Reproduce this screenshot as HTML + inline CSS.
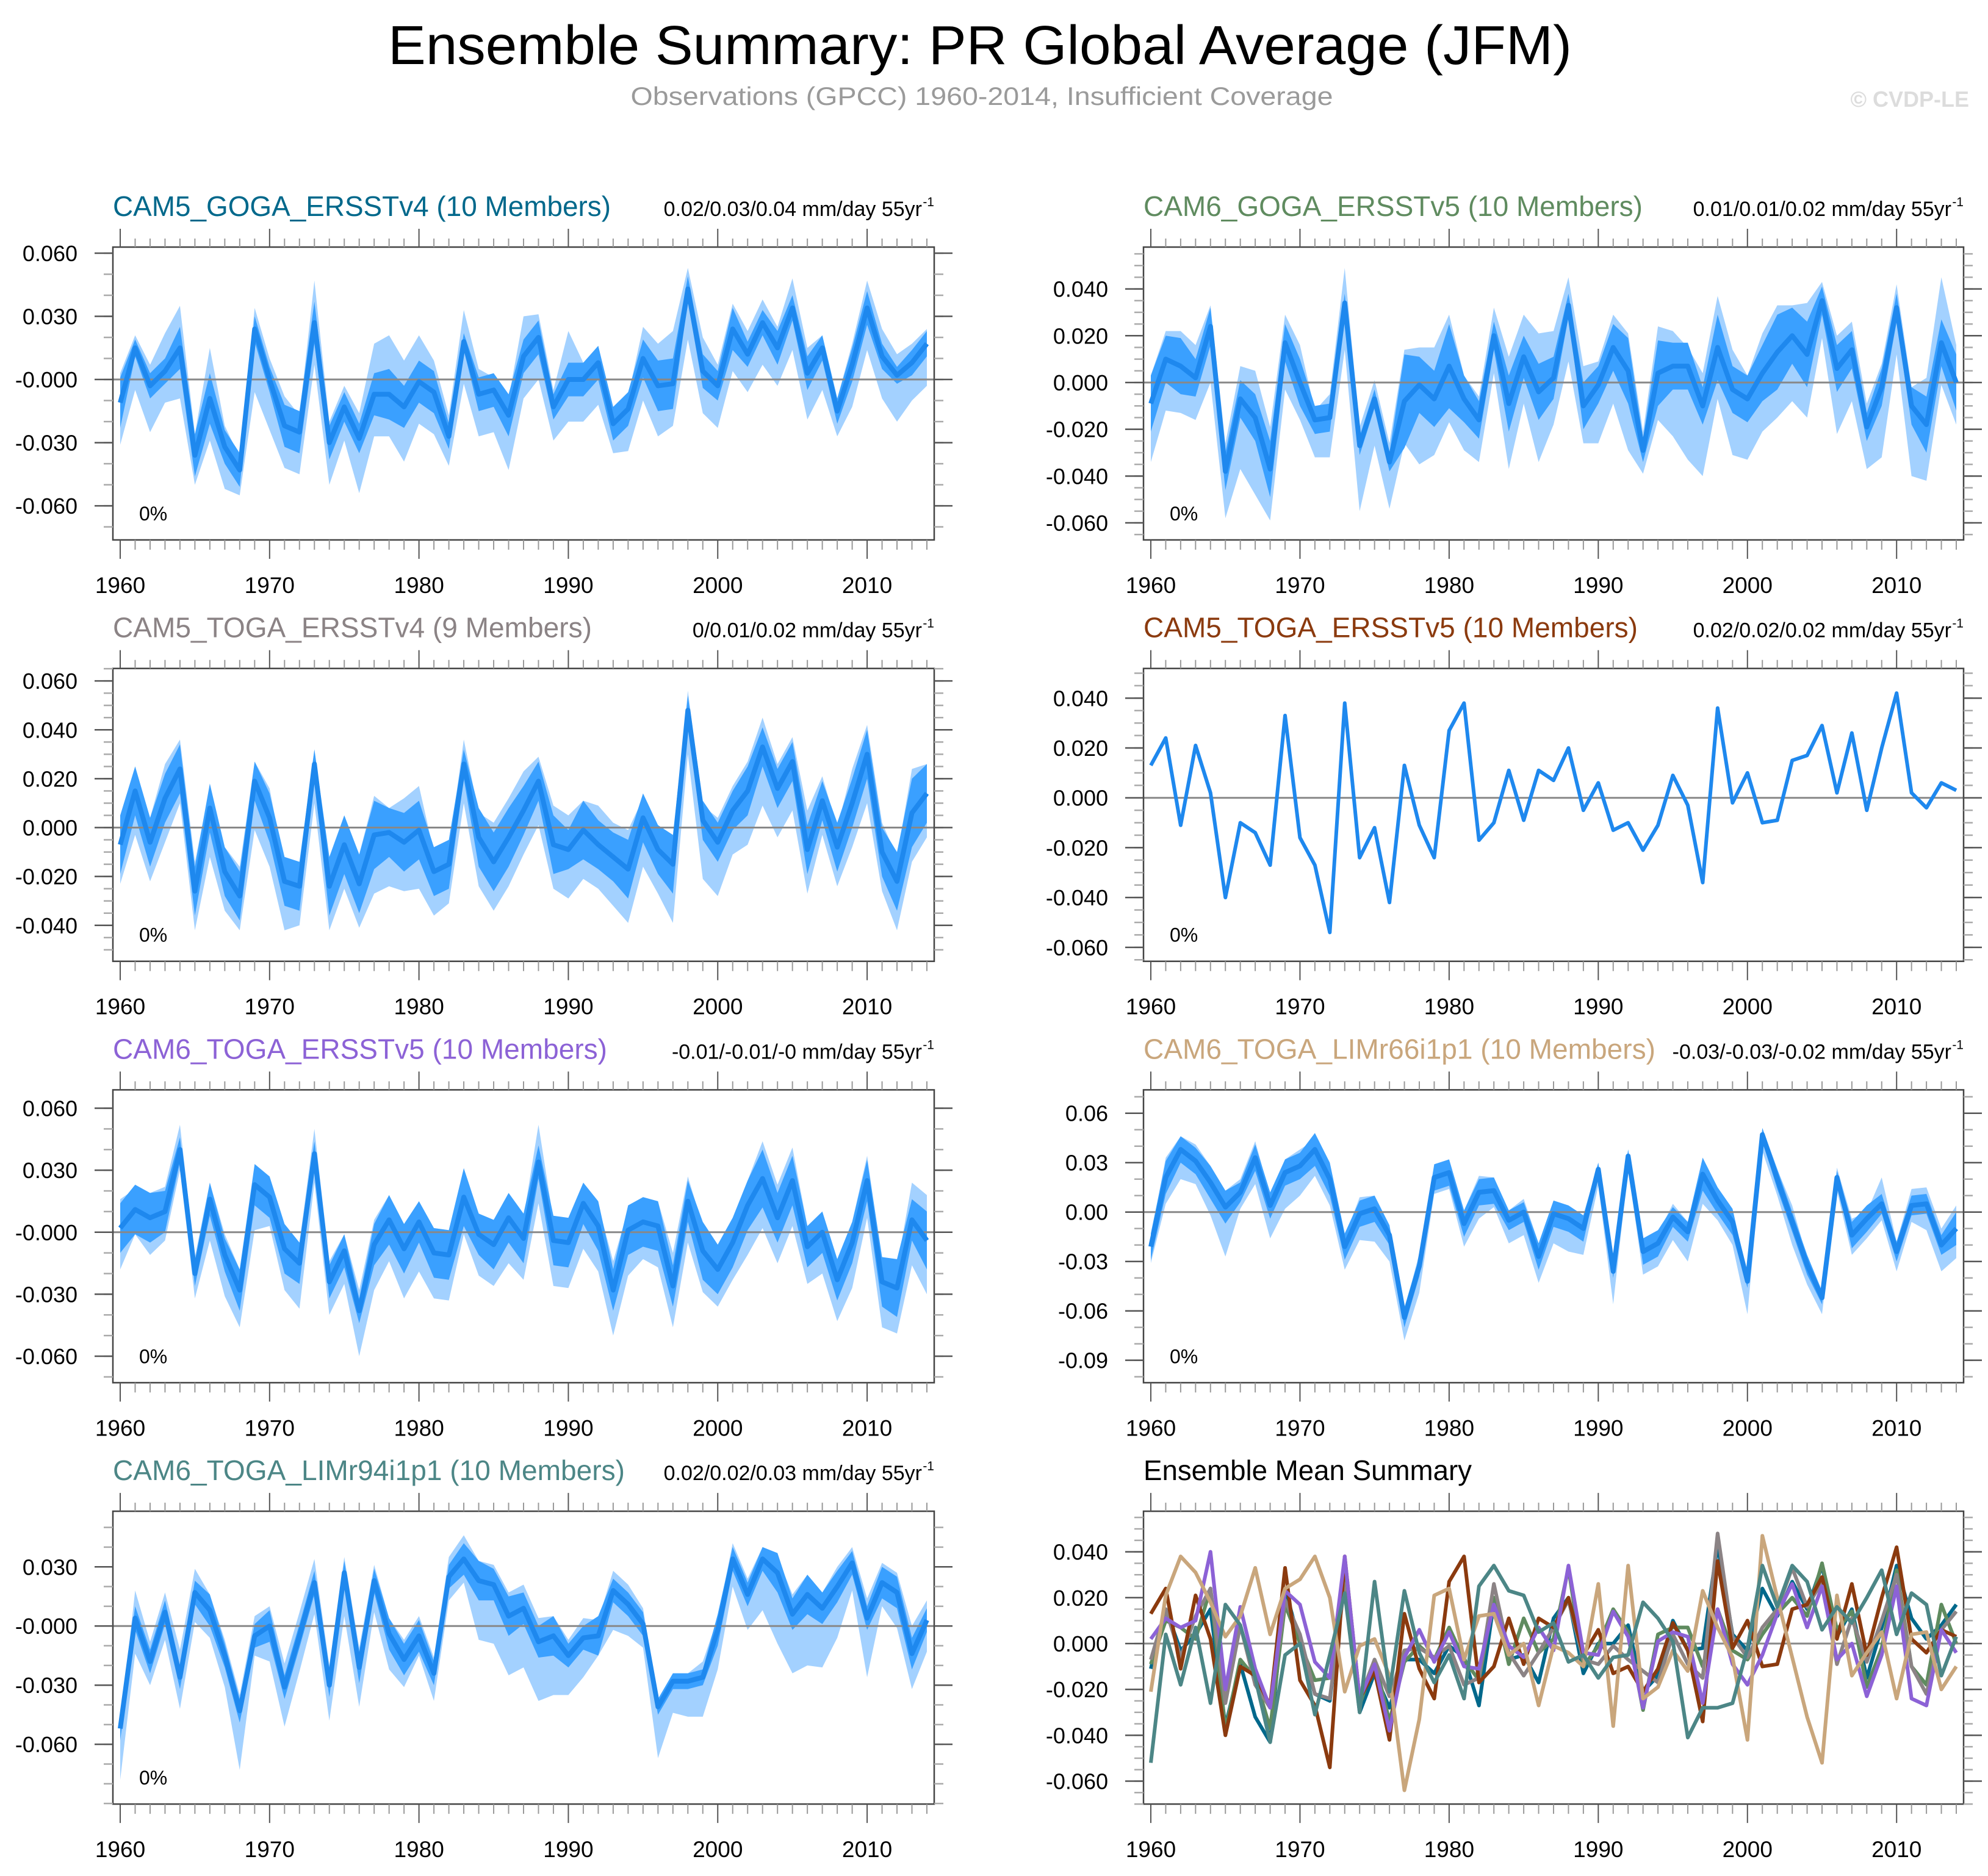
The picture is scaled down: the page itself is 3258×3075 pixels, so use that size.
<!DOCTYPE html>
<html><head><meta charset="utf-8"><title>Ensemble Summary: PR Global Average (JFM)</title>
<style>html,body{margin:0;padding:0;background:#fff;}svg{display:block;font-family:"Liberation Sans",sans-serif;}</style>
</head><body>
<svg id="chart" width="3258" height="3075" viewBox="0 0 3258 3075" xmlns="http://www.w3.org/2000/svg">
<rect width="3258" height="3075" fill="#fff"/>
<text x="1606" y="105" font-size="90" text-anchor="middle" textLength="1940" lengthAdjust="spacingAndGlyphs" fill="#000">Ensemble Summary: PR Global Average (JFM)</text>
<text x="1609" y="172" font-size="42" text-anchor="middle" textLength="1151" lengthAdjust="spacingAndGlyphs" fill="#9a9a9a">Observations (GPCC) 1960-2014, Insufficient Coverage</text>
<text x="3227" y="175" font-size="36" font-weight="bold" text-anchor="end" fill="#dcdcdc">© CVDP-LE</text>
<g id="panels"></g>
</svg>
<script>
// ---- data (values in thousandths of mm/day) ----
const years = [];
for (let y = 1960; y <= 2014; y++) years.push(y);

const p1Mean = [-11,15,-3,4,15,-36,-9,-32,-43,24, 0,-22,-25,27,-30,-13,-28,-7,-7,-13, -1,-6,-27,18,-7,-5,-17,11,20,-13, 0,0,8,-21,-14,10,-3,-2,43,4, -3,24,12,27,15,34,3,15,-15,7, 34,11,2,8,17];
const p1In = [12,4,6,6,10,10,12,8,8,6, 6,10,10,10,8,7,7,10,12,10, 10,10,6,4,8,8,10,8,8,6, 8,8,8,8,8,9,12,12,6,8, 7,10,6,6,8,6,8,6,6,8, 8,6,4,6,6];
const p1OutLo = [20,20,22,15,24,14,20,20,12,30, 24,20,20,20,20,16,26,20,20,26, 20,20,14,20,20,20,26,20,20,16, 20,20,20,14,20,20,24,20,24,20, 20,20,18,20,18,20,22,20,12,20, 20,20,22,18,20];
const p1OutHi = [14,6,10,18,20,10,24,10,6,10, 10,14,8,20,10,10,12,24,28,22, 22,15,10,15,12,6,8,19,11,8, 23,8,8,6,6,15,20,25,10,16, 10,12,11,11,10,14,12,6,6,10, 13,13,10,9,7];

const p2Mean = [-9,10,7,2,24,-38,-7,-15,-37,17, 0,-16,-15,34,-27,-7,-34,-8,-1,-7, 7,-7,-16,20,-9,11,-4,2,33,-10, -1,15,5,-29,4,7,7,-10,15,-3, -7,4,13,20,12,35,6,14,-19,-2, 32,-10,-18,17,0];
const p2In = [12,10,12,8,8,8,8,10,12,8, 10,6,6,4,4,4,4,20,12,12, 18,10,8,6,12,9,12,9,5,10, 8,10,14,5,14,10,10,8,14,10, 10,12,16,12,14,6,10,8,6,8, 6,8,12,10,12];
const p2OutLo = [25,22,20,18,24,20,30,33,22,20, 16,16,17,20,28,20,20,18,34,24, 24,22,18,16,28,20,30,20,24,16, 25,24,34,10,20,30,40,30,22,28, 26,25,28,28,27,16,28,22,18,30, 20,30,24,18,18];
const p2OutHi = [12,12,15,14,9,12,14,20,18,12, 16,4,10,15,8,8,8,22,16,22, 22,10,10,12,20,18,25,20,12,17, 10,14,16,8,20,15,8,14,22,17, 10,17,20,13,22,8,14,12,10,10, 10,8,20,28,16];

const p3Mean = [-7,15,-6,12,24,-26,8,-18,-28,19, 4,-22,-24,26,-24,-7,-23,-3,-2,-6, -1,-18,-15,26,-4,-14,-4,7,19,-7, -9,-1,-7,-12,-17,4,-9,-15,48,3, -6,7,15,33,16,27,-9,11,-8,10, 30,-10,-22,6,14];
const p3In = [12,10,10,10,10,10,10,10,10,8, 10,10,10,6,12,12,12,14,10,12, 12,10,10,6,12,12,12,10,8,12, 8,12,10,10,12,10,10,12,6,8, 8,8,10,8,8,8,10,8,10,10, 10,10,12,14,12];
const p3OutLo = [16,18,16,18,14,16,20,16,14,20, 20,20,16,16,18,18,18,24,22,20, 24,18,16,16,20,20,20,18,18,18, 20,20,18,20,22,20,18,24,18,24, 22,18,22,24,20,20,18,14,16,18, 20,16,20,20,18];
const p3OutHi = [8,10,10,14,12,12,8,10,12,8, 12,6,8,6,10,12,12,16,10,18, 18,8,6,10,10,16,16,16,10,16, 14,12,16,14,16,8,8,6,8,6, 10,10,12,12,10,10,16,10,8,14, 12,12,10,18,12];

const p4Mean = [13,24,-11,21,2,-40,-10,-14,-27,33, -16,-27,-54,38,-24,-12,-42,13,-11,-24, 27,38,-17,-10,11,-9,11,7,20,-5, 6,-13,-10,-21,-11,9,-3,-34,36,-2, 10,-10,-9,15,17,29,2,26,-5,20, 42,2,-4,6,3];

const p5Mean = [2,11,7,10,40,-20,16,-11,-28,23, 17,-8,-15,38,-24,-9,-38,-6,6,-8, 5,-10,-11,17,-1,-6,7,-3,34,-4, -5,14,3,-28,1,5,3,-26,15,-9, -18,-5,13,26,7,25,-7,0,-23,-5, 25,-24,-27,6,-4];
const p5In = [12,12,12,10,6,6,8,8,10,10, 10,12,10,6,8,8,6,10,12,12, 10,12,12,14,10,12,12,12,8,12, 12,10,12,10,12,12,12,10,10,14, 12,12,12,14,12,12,10,10,10,10, 10,12,14,10,14];
const p5OutLo = [20,12,18,14,10,12,20,20,18,22, 14,20,22,14,16,16,22,22,20,24, 24,22,22,18,20,20,22,20,20,22, 22,22,22,22,22,18,20,20,20,20, 18,18,24,24,22,22,18,20,20,22, 18,22,22,22,26];
const p5OutHi = [14,10,12,12,12,8,8,10,10,8, 6,10,10,12,10,8,10,12,12,8, 10,12,12,12,10,12,10,10,18,10, 12,8,10,14,10,12,12,16,12,12, 12,12,12,18,16,16,10,10,10,10, 12,10,10,18,22];

const p6Mean = [-21,21,38,31,18,3,12,33,4,24, 28,38,20,-21,-1,2,-14,-64,-33,21, 24,-7,12,13,-5,0,-27,-1,-4,-10, 26,-36,34,-24,-19,-3,-12,23,7,-6, -42,47,20,-6,-32,-52,21,-14,-4,5, -24,4,5,-20,-10];
const p6In = [8,10,8,8,10,10,6,8,8,8, 8,10,10,8,8,8,6,6,6,8, 8,8,8,8,6,6,8,8,8,8, 4,4,4,8,8,6,6,10,8,8, 4,4,6,6,6,4,4,8,8,6, 6,6,6,6,10];
const p6OutLo = [10,16,18,14,20,30,10,16,20,22, 18,16,16,14,16,20,16,14,16,10, 10,14,16,10,14,14,16,18,20,16, 10,20,8,14,14,14,18,18,12,14, 20,10,10,14,12,10,8,12,12,10, 12,10,16,16,18];
const p6OutHi = [6,12,8,10,10,10,8,10,6,8, 10,6,8,6,10,8,4,4,8,6, 6,8,10,8,6,8,8,8,8,8, 4,4,4,4,6,8,6,10,6,4, 4,4,6,10,4,4,6,10,4,16, 6,10,10,10,14];

const p7Mean = [-52,4,-18,7,-26,17,8,-15,-43,-5, 0,-31,-5,22,-30,27,-21,23,-4,-17, -5,-24,25,34,23,21,5,9,-8,-5, -15,-6,-5,18,11,1,-41,-28,-28,-26, -2,34,16,34,27,6,16,9,20,32, 4,22,17,-14,3];
const p7In = [6,6,6,6,6,6,8,6,6,6, 8,6,6,6,6,6,8,6,8,8, 8,6,6,8,10,8,10,8,8,10, 6,6,10,6,6,6,4,4,4,4, 8,6,6,6,10,8,10,8,8,6, 6,8,8,8,6];
const p7OutLo = [26,18,12,14,16,15,14,16,30,10, 18,20,18,16,18,22,20,16,18,14, 10,14,12,12,30,30,30,30,30,30, 20,20,10,20,16,12,26,16,18,20, 20,14,18,26,36,30,36,30,26,14, 30,12,18,18,16];
const p7OutHi = [2,14,10,10,14,12,8,8,8,10, 10,12,12,12,10,8,10,8,8,10, 10,8,10,12,10,10,12,12,12,10, 8,10,8,10,10,8,4,4,4,8, 6,8,8,6,8,10,10,8,10,8, 10,10,10,14,10];

const titles = ["CAM5_GOGA_ERSSTv4 (10 Members)","CAM6_GOGA_ERSSTv5 (10 Members)","CAM5_TOGA_ERSSTv4 (9 Members)","CAM5_TOGA_ERSSTv5 (10 Members)","CAM6_TOGA_ERSSTv5 (10 Members)","CAM6_TOGA_LIMr66i1p1 (10 Members)","CAM6_TOGA_LIMr94i1p1 (10 Members)","Ensemble Mean Summary"];
const trends = ["0.02/0.03/0.04 mm/day 55yr","0.01/0.01/0.02 mm/day 55yr","0/0.01/0.02 mm/day 55yr","0.02/0.02/0.02 mm/day 55yr","-0.01/-0.01/-0 mm/day 55yr","-0.03/-0.03/-0.02 mm/day 55yr","0.02/0.02/0.03 mm/day 55yr",""];
const tickLabels1 = ["0.060","0.030","-0.000","-0.030","-0.060"];
const tickVals1 = [60,30,0,-30,-60];
const tickLabels2 = ["0.040","0.020","0.000","-0.020","-0.040","-0.060"];
const tickVals2 = [40,20,0,-20,-40,-60];
const tickLabels3 = ["0.060","0.040","0.020","0.000","-0.020","-0.040"];
const tickVals3 = [60,40,20,0,-20,-40];
const tickLabels4 = ["0.040","0.020","0.000","-0.020","-0.040","-0.060"];
const tickVals4 = [40,20,0,-20,-40,-60];
const tickLabels5 = ["0.060","0.030","-0.000","-0.030","-0.060"];
const tickVals5 = [60,30,0,-30,-60];
const tickLabels6 = ["0.06","0.03","0.00","-0.03","-0.06","-0.09"];
const tickVals6 = [60,30,0,-30,-60,-90];
const tickLabels7 = ["0.030","-0.000","-0.030","-0.060"];
const tickVals7 = [30,0,-30,-60];
const tickLabels8 = ["0.040","0.020","0.000","-0.020","-0.040","-0.060"];
const tickVals8 = [40,20,0,-20,-40,-60];
const xTickYears = [1960,1970,1980,1990,2000,2010];

// ---- layout (not data) ----
const NS = "http://www.w3.org/2000/svg";
const titleColors = ["#00688b","#5f8b5f","#8b8385","#8b3a0e","#8c62d6","#c9a67c","#4c8686","#000"];
const cols = [{l:185,r:1531},{l:1874,r:3218}];
const rowTop = r => 405 + r*690.7;
const boxH = 480;
const panels = [
 {c:0,r:0,ymin:-76.2,ymax:62.9,ticks:tickVals1,labels:tickLabels1,minor:10,mean:p1Mean,inn:p1In,lo:p1OutLo,hi:p1OutHi,tw:816},
 {c:1,r:0,ymin:-67.3,ymax:57.9,ticks:tickVals2,labels:tickLabels2,minor:5,mean:p2Mean,inn:p2In,lo:p2OutLo,hi:p2OutHi,tw:818},
 {c:0,r:1,ymin:-54.7,ymax:65.1,ticks:tickVals3,labels:tickLabels3,minor:5,mean:p3Mean,inn:p3In,lo:p3OutLo,hi:p3OutHi,tw:785},
 {c:1,r:1,ymin:-65.6,ymax:51.9,ticks:tickVals4,labels:tickLabels4,minor:5,mean:p4Mean,tw:810},
 {c:0,r:2,ymin:-72.8,ymax:68.9,ticks:tickVals5,labels:tickLabels5,minor:10,mean:p5Mean,inn:p5In,lo:p5OutLo,hi:p5OutHi,tw:810},
 {c:1,r:2,ymin:-103.6,ymax:74.2,ticks:tickVals6,labels:tickLabels6,minor:10,mean:p6Mean,inn:p6In,lo:p6OutLo,hi:p6OutHi,tw:839},
 {c:0,r:3,ymin:-90.3,ymax:58.2,ticks:tickVals7,labels:tickLabels7,minor:10,mean:p7Mean,inn:p7In,lo:p7OutLo,hi:p7OutHi,tw:839},
 {c:1,r:3,ymin:-70.0,ymax:57.7,ticks:tickVals8,labels:tickLabels8,minor:5,summary:true,tw:538}
];
const summarySeries = [p1Mean,p2Mean,p3Mean,p4Mean,p5Mean,p6Mean,p7Mean];

function mk(tag, attrs, parent){
  const e = document.createElementNS(NS, tag);
  for (const k in attrs) e.setAttribute(k, attrs[k]);
  parent.appendChild(e);
  return e;
}
const root = document.getElementById("panels");

panels.forEach((p, i) => {
  const L = cols[p.c].l, R = cols[p.c].r, T = rowTop(p.r), B = T + boxH;
  const g = mk("g", {}, root);
  
  
  const x0 = L + 12, x1 = R - 12;
  const xs = yr => x0 + (yr - 1960) * (x1 - x0) / 54;
  const ys = v => T + (p.ymax - v) / (p.ymax - p.ymin) * boxH;

  const tt = mk("text", {x:L, y:T-51, "font-size":46, fill:titleColors[i], textLength:p.tw, lengthAdjust:"spacingAndGlyphs"}, g);
  tt.textContent = titles[i];
  
  
  if (trends[i]) {
    const tr = mk("text", {x:R-20, y:T-51, "font-size":34, fill:"#000", "text-anchor":"end"}, g);
    tr.textContent = trends[i];
    
    
    const sp = mk("text", {x:R, y:T-67, "font-size":21, fill:"#000", "text-anchor":"end"}, g);
    sp.textContent = "-1";
    
    
  }

  if (p.lo) {
    let up = [], dn = [];
    years.forEach((yr, k) => { up.push(xs(yr)+","+ys(p.mean[k]+p.hi[k])); dn.push(xs(yr)+","+ys(p.mean[k]-p.lo[k])); });
    const ob = mk("polygon", {points: up.concat(dn.reverse()).join(" "), fill:"#a3d1ff"}, g);
    
    
    up = []; dn = [];
    years.forEach((yr, k) => { up.push(xs(yr)+","+ys(p.mean[k]+p.inn[k])); dn.push(xs(yr)+","+ys(p.mean[k]-p.inn[k])); });
    const ib = mk("polygon", {points: up.concat(dn.reverse()).join(" "), fill:"#3aa0ff"}, g);
    
    
  }

  const z = mk("line", {x1:L, x2:R, y1:ys(0), y2:ys(0), stroke:"#888", "stroke-width":3}, g);
  
  

  if (p.summary) {
    summarySeries.forEach((s, k) => {
      const pl = mk("polyline", {points: years.map((yr, j) => xs(yr)+","+ys(s[j])).join(" "), fill:"none", stroke:titleColors[k], "stroke-width":6, "stroke-linejoin":"round"}, g);
      
      
    });
  } else {
    const ml = mk("polyline", {points: years.map((yr, j) => xs(yr)+","+ys(p.mean[j])).join(" "), fill:"none", stroke:"#1e88ee", "stroke-width":p.lo ? 8 : 6, "stroke-linejoin":"round"}, g);
    
    
    const pc = mk("text", {x:L+43, y:B-32, "font-size":32, fill:"#000"}, g);
    pc.textContent = "0%";
    
    
  }

  const bx = mk("rect", {x:L, y:T, width:R-L, height:boxH, fill:"none", stroke:"#444", "stroke-width":2.5}, g);
  
  

  const vmin = Math.ceil(p.ymin / p.minor) * p.minor;
  for (let v = vmin; v <= p.ymax; v += p.minor) {
    const yy = ys(v);
    mk("line", {x1:L-15, x2:L, y1:yy, y2:yy, stroke:"#aaa", "stroke-width":2.5}, g);
    mk("line", {x1:R, x2:R+15, y1:yy, y2:yy, stroke:"#aaa", "stroke-width":2.5}, g);
  }
  p.ticks.forEach((v, k) => {
    const yy = ys(v);
    mk("line", {x1:L-30, x2:L, y1:yy, y2:yy, stroke:"#555", "stroke-width":2.5}, g);
    mk("line", {x1:R, x2:R+30, y1:yy, y2:yy, stroke:"#555", "stroke-width":2.5}, g);
    const lb = mk("text", {x:L-58, y:yy+13, "font-size":36, "text-anchor":"end", fill:"#000"}, g);
    lb.textContent = p.labels[k];
    
    
  });
  years.forEach(yr => {
    const xx = xs(yr), maj = (yr % 10 === 0);
    mk("line", {x1:xx, x2:xx, y1:T-(maj?30:14), y2:T, stroke:maj?"#555":"#999", "stroke-width":2}, g);
    mk("line", {x1:xx, x2:xx, y1:B, y2:B+(maj?31:16), stroke:maj?"#555":"#999", "stroke-width":2}, g);
  });
  xTickYears.forEach(yr => {
    const lb = mk("text", {x:xs(yr), y:B+87, "font-size":37, "text-anchor":"middle", fill:"#000"}, g);
    lb.textContent = String(yr);
    
    
  });
});
</script>
</body></html>
